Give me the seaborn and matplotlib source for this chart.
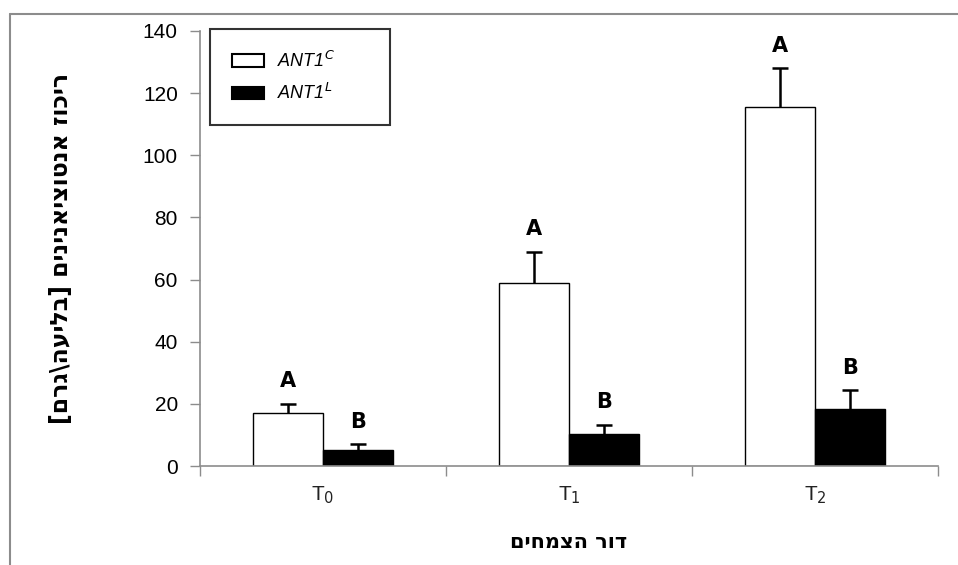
import pandas as pd
import seaborn as sns
import matplotlib.pyplot as plt
from matplotlib.lines import Line2D
from matplotlib.ticker import FixedLocator

# values
groups = ["T0", "T1", "T2"]
tick_labels = ["T$_0$", "T$_1$", "T$_2$"]
lines = ["ANT1$^{C}$", "ANT1$^{L}$"]
ant1_c = [17, 59, 115.5]
ant1_c_err = [3, 10, 12.5]
ant1_l = [5, 10.3, 18.3]
ant1_l_err = [2, 3, 6]
letters_c = ["A", "A", "A"]
letters_l = ["B", "B", "B"]

df = pd.DataFrame({
    "group": groups * 2,
    "line": [lines[0]] * 3 + [lines[1]] * 3,
    "value": ant1_c + ant1_l,
})

sns.set_style("white")
plt.rcParams['font.family'] = ['Liberation Sans', 'DejaVu Sans']
plt.rcParams['text.color'] = 'black'
plt.rcParams['axes.labelcolor'] = 'black'
plt.rcParams['xtick.color'] = 'black'
plt.rcParams['ytick.color'] = 'black'

fig = plt.figure(figsize=(9.58, 5.65), dpi=100)
ax = fig.add_axes([200 / 958, 1 - 466 / 565, 738 / 958, 435 / 565])

sns.barplot(data=df, x="group", y="value", hue="line", order=groups, hue_order=lines,
            palette=["white", "black"], edgecolor="black", linewidth=1,
            width=0.573, errorbar=None, ax=ax)

for cont, errs, letters in zip(ax.containers, [ant1_c_err, ant1_l_err], [letters_c, letters_l]):
    xs = [p.get_x() + p.get_width() / 2 for p in cont.patches]
    hs = [p.get_height() for p in cont.patches]
    eb = ax.errorbar(xs, hs, yerr=[[0] * len(errs), errs], fmt="none", ecolor="black",
                     elinewidth=1.8, capsize=6, capthick=1.8)
    # keep only the upper caps
    for cl in eb[1]:
        if list(cl.get_ydata()) == hs:
            cl.set_visible(False)
    for x, h, e, t in zip(xs, hs, errs, letters):
        ax.text(x, h + e + 4, t, ha="center", va="bottom", fontsize=15, fontweight="bold",
                family=['DejaVu Sans'])

ax.set_ylim(0, 140)
ax.set_xlim(-0.5, 2.5)
ax.set_yticks(range(0, 141, 20))
ax.tick_params(axis="y", labelsize=15, length=7, width=1, color="#8c8c8c", direction="out", pad=9, left=True)
ax.set_xticks(range(3))
ax.set_xticklabels(tick_labels, fontsize=15, color="#222222")
ax.tick_params(axis="x", length=0, pad=13)
ax.xaxis.set_minor_locator(FixedLocator([-0.5, 0.5, 1.5, 2.5]))
ax.tick_params(axis="x", which="minor", length=7, width=1, color="#8c8c8c", direction="out", bottom=True)

for s in ["top", "right"]:
    ax.spines[s].set_visible(False)
for s in ["left", "bottom"]:
    ax.spines[s].set_color("#8c8c8c")
    ax.spines[s].set_linewidth(1.2)

ax.set_xlabel("םיחמצה רוד", fontsize=15, fontweight="bold", labelpad=19, family=['DejaVu Sans'])
ax.set_ylabel("[םרג\\העילב] םינינאיצוטנא זוכיר", fontsize=17, fontweight="bold", labelpad=50,
              family=['DejaVu Sans'])

leg = ax.legend(loc="upper left", bbox_to_anchor=(10 / 738, 0, 180 / 738, 1.005), mode="expand",
                frameon=True, fancybox=False,
                prop={"style": "italic", "size": 13}, handlelength=1.8, handleheight=0.7,
                borderpad=1.2, labelspacing=0.7, handletextpad=0.7, borderaxespad=0)
leg.get_frame().set_edgecolor("black")
leg.get_frame().set_linewidth(1.5)
for h in leg.legend_handles:
    h.set_edgecolor("black")
    h.set_linewidth(1.5)

# outer chart frame
fig.add_artist(Line2D([10 / 958, 10 / 958], [0, 1 - 14 / 565], color="#8c8c8c", lw=1.5, transform=fig.transFigure))
fig.add_artist(Line2D([10 / 958, 1], [1 - 14 / 565, 1 - 14 / 565], color="#8c8c8c", lw=1.5, transform=fig.transFigure))

fig.savefig("out.png", dpi=100)
